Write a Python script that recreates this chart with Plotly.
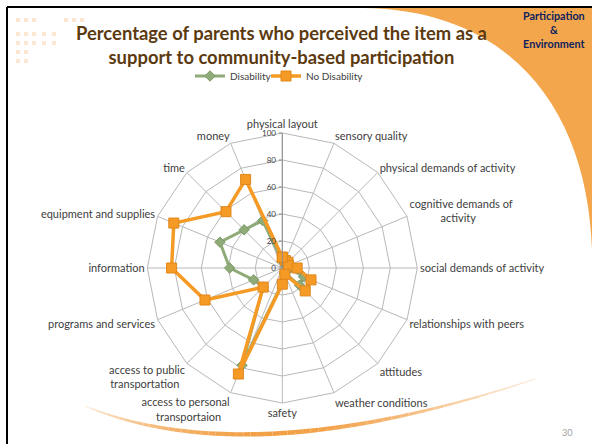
import numpy as np
import plotly.graph_objects as go

W, H = 592, 444
NB = "\u00a0"

categories = [
    "physical layout", "sensory quality", "physical demands of activity",
    "cognitive demands of<br>" + NB * 11 + "activity", "social demands of activity",
    "relationships with peers", "attitudes", "weather conditions", "safety",
    "access to personal<br>transportaion" + NB * 3,
    "access to public<br>transportation" + NB * 2,
    "programs and services", "information", "equipment and supplies",
    "time", "money",
]
disability = [5, 4, 4, 3, 6, 17, 18, 4, 11, 78, 20, 23, 39, 50, 40, 38]
no_disability = [8, 6, 6, 5, 11, 23, 24, 5, 12, 85, 20, 62, 82, 87, 59, 71]
radial_ticks = [0, 20, 40, 60, 80, 100]

GREEN = "#8fab78"
ORANGE = "#f59b25"
TEXT = "#404040"


def px(x, y):
    """Pixel position -> paper coordinates."""
    return x / W, 1 - y / H


def closed(vals):
    return list(vals) + [vals[0]]


fig = go.Figure()
fig.add_trace(go.Scatterpolar(
    r=closed(disability), theta=closed(categories), name="Disability",
    mode="lines+markers", legend="legend",
    line=dict(color=GREEN, width=3),
    marker=dict(symbol="diamond", size=8, color=GREEN,
                line=dict(color="#7d9868", width=1)),
))
fig.add_trace(go.Scatterpolar(
    r=closed(no_disability), theta=closed(categories), name="No Disability",
    mode="lines+markers", legend="legend2",
    line=dict(color=ORANGE, width=3.5),
    marker=dict(symbol="square", size=10, color=ORANGE,
                line=dict(color="#e0861a", width=1)),
))

# polar area: centre (282, 268), radius 135 px
x0, y0 = px(282.3 - 135, 268 + 135)
x1, y1 = px(282.3 + 135, 268 - 135)

shapes = []
# orange swoosh in the top-right corner
a = px(363, 8); b = px(520, 10); c = px(588, 120); d = px(592, 250); e = px(592, 8)
shapes.append(dict(
    type="path", xref="paper", yref="paper", layer="below",
    path=f"M {a[0]},{a[1]} C {b[0]},{b[1]} {c[0]},{c[1]} {d[0]},{d[1]} L {e[0]},{e[1]} Z",
    fillcolor="#f4a64c", line=dict(width=0),
))
# gradient arc along the bottom
p0 = np.array([85.0, 406.0]); pc = np.array([250.0, 474.0]); p2 = np.array([535.0, 379.0])
n = 60
ts = np.linspace(0, 1, n + 1)
pts = [(1 - t) ** 2 * p0 + 2 * (1 - t) * t * pc + t ** 2 * p2 for t in ts]
c_light = np.array([253, 240, 228]); c_dark = np.array([242, 160, 70])
for i in range(n):
    tm = (ts[i] + ts[i + 1]) / 2
    k = np.sin(np.pi * tm) ** 0.8
    if tm > 0.45:
        k = np.sin(np.pi * (0.45 + (tm - 0.45) * 0.9)) ** 1.5
    col = c_light + (c_dark - c_light) * k
    s = px(*pts[i]); f = px(*pts[i + 1])
    shapes.append(dict(
        type="line", xref="paper", yref="paper", layer="below",
        x0=s[0], y0=s[1], x1=f[0], y1=f[1],
        line=dict(color=f"rgb({int(col[0])},{int(col[1])},{int(col[2])})",
                  width=1 + 3.5 * k),
    ))
# decorative squares, top left
squares = [(16, 18), (24, 18), (32, 18), (64, 18), (72, 18), (80, 18),
           (16, 32), (24, 32), (32, 32), (42, 32), (52, 32),
           (16, 41), (24, 41), (32, 41), (42, 41), (52, 41),
           (16, 50), (24, 50), (16, 59), (24, 59)]
for sx, sy in squares:
    q0 = px(sx, sy + 4); q1 = px(sx + 4, sy)
    shapes.append(dict(type="rect", xref="paper", yref="paper", layer="below",
                       x0=q0[0], y0=q0[1], x1=q1[0], y1=q1[1],
                       fillcolor="#fde6d2", line=dict(width=0)))
# slide border (top and left)
bt = px(7, 7); br = px(592, 7); bb = px(7, 444)
shapes.append(dict(type="line", xref="paper", yref="paper",
                   x0=bt[0], y0=bt[1], x1=br[0], y1=br[1],
                   line=dict(color="black", width=2)))
shapes.append(dict(type="line", xref="paper", yref="paper",
                   x0=bt[0], y0=bt[1], x1=bb[0], y1=bb[1],
                   line=dict(color="black", width=2)))

annotations = [
    dict(text="<b>Percentage of parents who perceived the item as a<br>"
              "support to community-based participation</b>",
         x=px(281, 0)[0], y=px(0, 45)[1], xref="paper", yref="paper",
         xanchor="center", yanchor="middle", showarrow=False,
         font=dict(family="Lato", size=18.4, color="#5c3a10")),
    dict(text="<b>Participation<br>&amp;<br>Environment</b>",
         x=px(554, 0)[0], y=px(0, 29)[1], xref="paper", yref="paper",
         xanchor="center", yanchor="middle", showarrow=False,
         font=dict(family="Lato", size=10.8, color="#0d1f5e")),
    dict(text="30", x=px(567, 0)[0], y=px(0, 432)[1], xref="paper", yref="paper",
         xanchor="center", yanchor="middle", showarrow=False,
         font=dict(family="Lato", size=9, color="#a0a0a0")),
]

legend_style = dict(orientation="h", xanchor="left", yanchor="middle",
                    itemwidth=30, font=dict(size=10, color=TEXT),
                    bgcolor="rgba(0,0,0,0)")

fig.update_layout(
    width=W, height=H,
    margin=dict(l=0, r=0, t=0, b=0),
    paper_bgcolor="white",
    font=dict(family="Lato", color=TEXT),
    showlegend=True,
    legend=dict(x=px(190, 0)[0], y=px(0, 76)[1], **legend_style),
    legend2=dict(x=px(266, 0)[0], y=px(0, 76)[1], **legend_style),
    polar=dict(
        domain=dict(x=[x0, x1], y=[y0, y1]),
        bgcolor="rgba(0,0,0,0)",
        gridshape="linear",
        angularaxis=dict(
            rotation=90, direction="clockwise",
            tickfont=dict(size=11, color=TEXT),
            gridcolor="#b8b8b8", linecolor="#b8b8b8", linewidth=1,
            ticks="",
        ),
        radialaxis=dict(
            range=[0, 100], tickvals=radial_ticks, angle=90, tickangle=90,
            side="counterclockwise",
            tickfont=dict(size=8, color=TEXT),
            gridcolor="#b8b8b8", linecolor="#8c8c8c", linewidth=1,
            ticks="outside", ticklen=3, tickcolor="#8c8c8c",
            showline=True,
        ),
    ),
    shapes=shapes,
    annotations=annotations,
)

fig.write_html("out.html")
